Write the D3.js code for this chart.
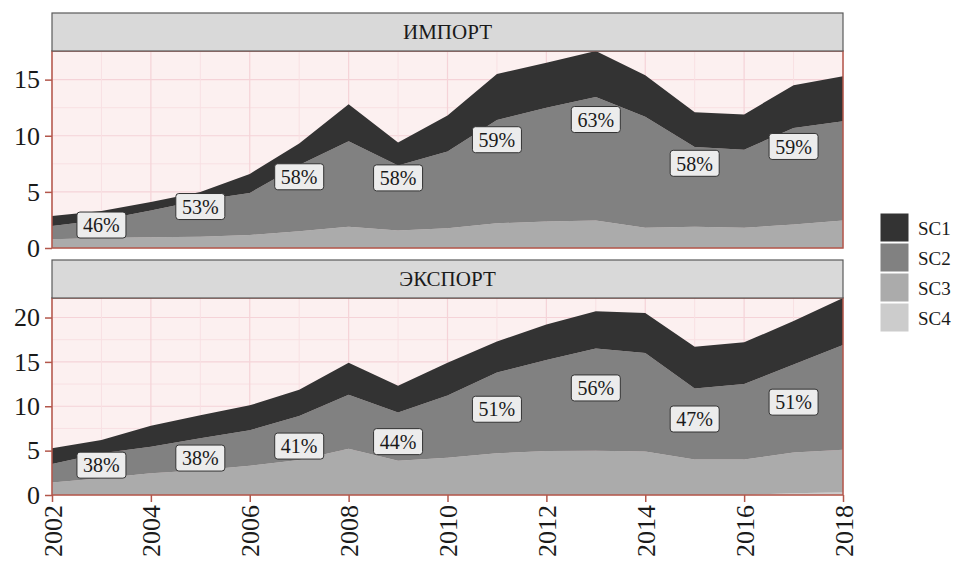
<!DOCTYPE html>
<html>
  <head>
    <meta charset="utf-8">
    <title>ИМПОРТ / ЭКСПОРТ</title>
    <script src="https://cdn.jsdelivr.net/npm/d3@7"></script>
<style>
body { margin: 0; background: #fff; }
.border { fill: none; stroke: #b3574b; stroke-width: 1.5; }
.strip rect { fill: #d9d9d9; stroke: #5a5a5a; stroke-width: 1.2; }
.lbl rect { fill: #ececec; stroke: #333; stroke-width: 1; }
</style>
  </head>
  <body>
    <div id="chart"></div>
    <script>

// годы и серии
var years = d3.range(2002, 2019);
var keys = ["SC1", "SC2", "SC3", "SC4"];
var fills = ["#333333", "#818181", "#ababab", "#cccccc"];

// ИМПОРТ
var impSC1 = [0.89, 0.8, 0.75, 0.75, 1.7, 1.9, 3.3, 2.05, 3.2, 4.1, 4.0, 4.1, 3.7, 3.1, 3.15, 3.8, 4.0];
var impSC2 = [1.18, 1.6, 2.4, 3.25, 3.75, 5.9, 7.6, 5.8, 6.85, 9.2, 10.15, 11.0, 9.9, 7.1, 6.95, 8.6, 8.85];
var impSC3 = [0.78, 0.9, 0.95, 1.0, 1.15, 1.5, 1.9, 1.55, 1.75, 2.2, 2.35, 2.45, 1.8, 1.9, 1.8, 2.1, 2.45];
var impSC4 = [0, 0, 0, 0, 0, 0, 0, 0, 0, 0, 0, 0, 0, 0, 0, 0, 0];
var impPct = ["46%", "53%", "58%", "58%", "59%", "63%", "58%", "59%"];

// ЭКСПОРТ
var expSC1 = [1.77, 1.5, 2.35, 2.6, 2.8, 2.95, 3.6, 3.0, 3.7, 3.5, 4.0, 4.2, 4.5, 4.7, 4.7, 4.9, 5.3];
var expSC2 = [2.1, 2.8, 3.0, 3.6, 4.0, 4.95, 6.1, 5.45, 7.0, 9.1, 10.25, 11.5, 11.1, 8.0, 8.5, 9.9, 11.8];
var expSC3 = [1.4, 1.9, 2.45, 2.8, 3.3, 3.95, 5.2, 3.85, 4.2, 4.7, 4.95, 5.0, 4.9, 4.0, 4.0, 4.6, 4.8];
var expSC4 = [0, 0, 0, 0, 0, 0, 0, 0, 0, 0, 0, 0, 0, 0, 0, 0.2, 0.3];
var expPct = ["38%", "38%", "41%", "44%", "51%", "56%", "47%", "51%"];

var pctYears = [2003, 2005, 2007, 2009, 2011, 2013, 2015, 2017];
var yTicks = { "ИМПОРТ": [0, 5, 10, 15], "ЭКСПОРТ": [0, 5, 10, 15, 20] };

var FONT = "Liberation Serif";

function rows(s1, s2, s3, s4) {
  return years.map(function(y, i) {
    return { year: y, SC1: s1[i], SC2: s2[i], SC3: s3[i], SC4: s4[i] };
  });
}

var panels = [
  { name: "ИМПОРТ", data: rows(impSC1, impSC2, impSC3, impSC4), pct: impPct, top: 13 },
  { name: "ЭКСПОРТ", data: rows(expSC1, expSC2, expSC3, expSC4), pct: expPct, top: 260 }
];

var W = 957, H = 564;
var left = 52, right = 843;
var stripH = 38, plotH = 197;

var svg = d3.select("#chart").append("svg")
    .attr("width", W)
    .attr("height", H)
    .attr("font-family", FONT);

var x = d3.scaleLinear()
    .domain([2002, 2018])
    .range([left, right]);

var stack = d3.stack().keys(["SC4", "SC3", "SC2", "SC1"]);
var color = d3.scaleOrdinal().domain(keys).range(fills);

panels.forEach(function(p, pi) {
  var py = p.top + stripH;
  var g = svg.append("g");

  var series = stack(p.data);
  var ymax = d3.max(p.data, function(d) { return d.SC1 + d.SC2 + d.SC3 + d.SC4; });
  var y = d3.scaleLinear()
      .domain([0, ymax])
      .range([py + plotH, py]);

  // фон и сетка
  g.append("rect")
    .attr("x", left).attr("y", py)
    .attr("width", right - left).attr("height", plotH)
    .attr("fill", "#fcf0f0");

  var minorY = d3.range(2.5, ymax, 5);
  g.selectAll(".gminy").data(minorY).enter().append("line")
    .attr("x1", left).attr("x2", right)
    .attr("y1", function(d) { return y(d); }).attr("y2", function(d) { return y(d); })
    .attr("stroke", "#f8e0e3").attr("stroke-width", 1);
  g.selectAll(".gmaxy").data(yTicks[p.name]).enter().append("line")
    .attr("x1", left).attr("x2", right)
    .attr("y1", function(d) { return y(d); }).attr("y2", function(d) { return y(d); })
    .attr("stroke", "#f5d3d8").attr("stroke-width", 1.2);
  g.selectAll(".gx").data(years).enter().append("line")
    .attr("y1", py).attr("y2", py + plotH)
    .attr("x1", function(d) { return x(d); }).attr("x2", function(d) { return x(d); })
    .attr("stroke", function(d) { return d % 2 ? "#f8e0e3" : "#f5d3d8"; })
    .attr("stroke-width", function(d) { return d % 2 ? 1 : 1.2; });

  // области
  var area = d3.area()
      .x(function(d) { return x(d.data.year); })
      .y0(function(d) { return y(d[0]); })
      .y1(function(d) { return y(d[1]); });

  g.selectAll(".layer").data(series).enter().append("path")
    .attr("d", area)
    .attr("fill", function(d) { return color(d.key); });

  // подписи долей
  var lab = g.selectAll(".lbl").data(pctYears).enter().append("g")
    .attr("class", "lbl")
    .attr("transform", function(d, i) {
      var row = p.data[years.indexOf(d)];
      return "translate(" + x(d) + "," + (y(row.SC2) - 5) + ")";
    });
  lab.append("rect")
    .attr("x", -24.5).attr("y", -13)
    .attr("width", 49).attr("height", 26)
    .attr("rx", 3);
  lab.append("text")
    .attr("text-anchor", "middle")
    .attr("dy", "0.36em")
    .attr("font-family", FONT)
    .attr("font-size", 20)
    .attr("fill", "#1a1a1a")
    .text(function(d, i) { return p.pct[i]; });

  // рамка панели
  g.append("rect").attr("class", "border")
    .attr("x", left).attr("y", py)
    .attr("width", right - left).attr("height", plotH);

  // ось Y
  var ya = g.append("g")
    .attr("transform", "translate(" + left + ",0)")
    .call(d3.axisLeft(y).tickValues(yTicks[p.name]).tickSize(7).tickPadding(5))
    .attr("font-family", FONT)
    .attr("font-size", 26);
  ya.select(".domain").remove();
  ya.selectAll("line").attr("stroke", "#b3574b").attr("stroke-width", 1.5);
  ya.selectAll("text")
    .attr("font-family", FONT)
    .attr("fill", "#1a1a1a");

  // полоса с названием
  var st = g.append("g").attr("class", "strip");
  st.append("rect")
    .attr("x", left).attr("y", p.top)
    .attr("width", right - left).attr("height", stripH);
  st.append("text")
    .attr("x", (left + right) / 2)
    .attr("y", p.top + stripH / 2)
    .attr("dy", "0.35em")
    .attr("text-anchor", "middle")
    .attr("font-family", FONT)
    .attr("font-size", 21)
    .attr("fill", "#1a1a1a")
    .text(p.name);

  // ось X только внизу
  if (pi === panels.length - 1) {
    var xa = g.append("g")
      .attr("transform", "translate(0," + (py + plotH) + ")")
      .call(d3.axisBottom(x).tickValues(d3.range(2002, 2019, 2)).tickFormat(d3.format("d")).tickSize(7).tickPadding(5))
      .attr("font-family", FONT)
      .attr("font-size", 26);
    xa.select(".domain").remove();
    xa.selectAll("line").attr("stroke", "#b3574b").attr("stroke-width", 1.5);
    xa.selectAll("text")
      .attr("font-family", FONT)
      .attr("fill", "#1a1a1a")
      .attr("text-anchor", "end")
      .attr("transform", "rotate(-90)")
      .attr("x", -10).attr("y", 0).attr("dy", "0.35em");
  }
});

// легенда
var leg = svg.append("g").attr("transform", "translate(880,213)");
var item = leg.selectAll(".item").data(keys).enter().append("g")
  .attr("transform", function(d, i) { return "translate(0," + i * 30 + ")"; });
item.append("rect")
  .attr("width", 29).attr("height", 29)
  .attr("fill", function(d) { return color(d); })
  .attr("stroke", "#fff").attr("stroke-width", 1);
item.append("text")
  .attr("x", 38).attr("y", 15)
  .attr("dy", "0.35em")
  .attr("font-family", FONT)
  .attr("font-size", 19)
  .attr("fill", "#1a1a1a")
  .text(function(d) { return d; });

    </script>
  </body>
</html>
